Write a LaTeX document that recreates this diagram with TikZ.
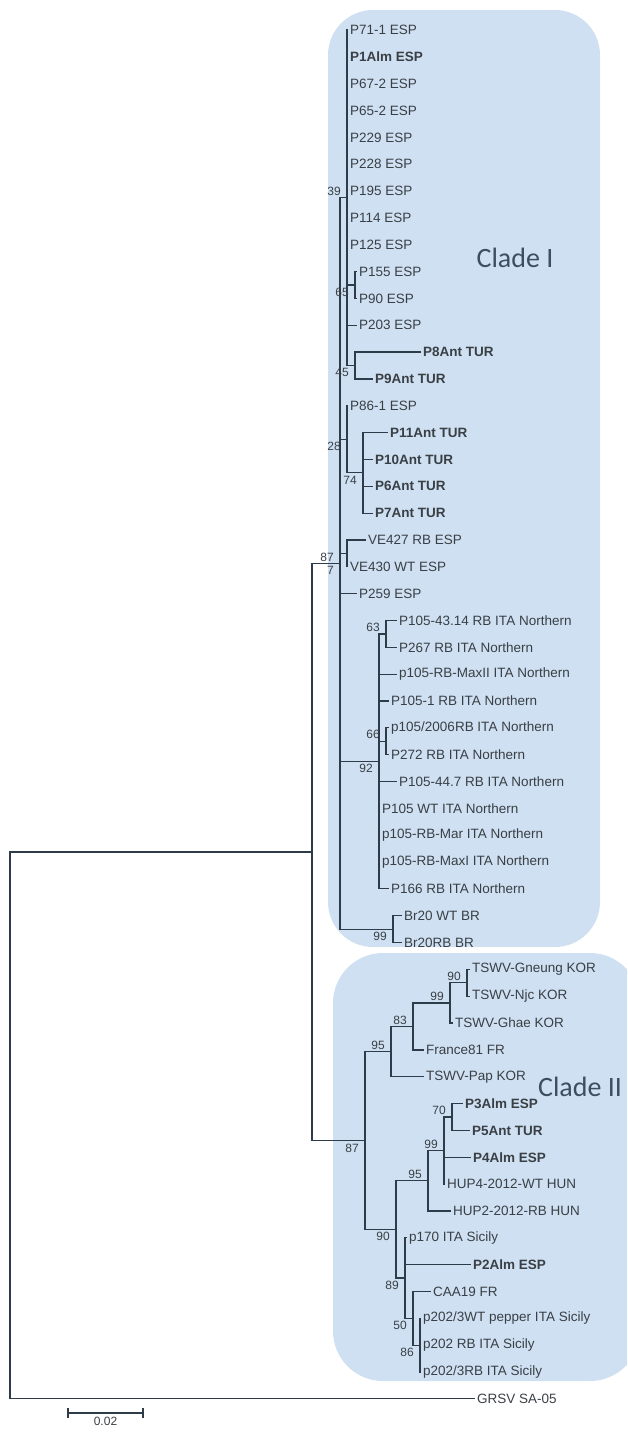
\documentclass[tikz,border=0pt]{standalone}
\usepackage{fontspec}
\usetikzlibrary{calc}
\setmainfont{Liberation Sans}
\newfontfamily\cladefont{Carlito}
\definecolor{boxc}{HTML}{CEE0F1}
\definecolor{linec}{HTML}{2E3B48}
\definecolor{textc}{HTML}{3A3F45}
\definecolor{cladec}{HTML}{3D4E60}
\newcommand\LY[1]{30+(#1-1)*26.84}
\begin{document}
\begin{tikzpicture}[x=1pt,y=-1pt,
  branch/.style={draw=linec, line width=1.2pt, line cap=rect},
  leaf/.style={anchor=west, inner sep=3pt, text=textc, font=\fontsize{13.5}{15}\selectfont},
  bleaf/.style={leaf, font=\fontsize{13.5}{15}\selectfont\bfseries},
  supa/.style={anchor=south east, inner sep=1pt, xshift=-5pt, yshift=1pt, text=textc, font=\fontsize{12}{13}\selectfont},
  supb/.style={anchor=north east, inner sep=1pt, xshift=-5pt, yshift=-2pt, text=textc, font=\fontsize{12}{13}\selectfont},
  cladebox/.style={fill=boxc, draw=none, rounded corners=45pt},
  cladelabel/.style={text=cladec, font=\cladefont\fontsize{28}{32}\selectfont, inner sep=0pt}]
\useasboundingbox (0,0) rectangle (627,1452);
\begin{scope}
\clip (0,0) rectangle (627,1452);
\fill[cladebox] (328,10) rectangle (600,947);
\fill[cladebox, rounded corners=50pt] (333,953) rectangle (640,1381);
\end{scope}
\node[cladelabel] (cladeI) at (515,258) {Clade I};
\node[cladelabel] (cladeII) at (580,1087) {Clade II};

% ---------- leaves ----------
\node[leaf]  (l1)  at (347,{\LY{1}})  {P71-1 ESP};
\node[bleaf] (l2)  at (347,{\LY{2}})  {P1Alm ESP};
\node[leaf]  (l3)  at (347,{\LY{3}})  {P67-2 ESP};
\node[leaf]  (l4)  at (347,{\LY{4}})  {P65-2 ESP};
\node[leaf]  (l5)  at (347,{\LY{5}})  {P229 ESP};
\node[leaf]  (l6)  at (347,{\LY{6}})  {P228 ESP};
\node[leaf]  (l7)  at (347,{\LY{7}})  {P195 ESP};
\node[leaf]  (l8)  at (347,{\LY{8}})  {P114 ESP};
\node[leaf]  (l9)  at (347,{\LY{9}})  {P125 ESP};
\node[leaf]  (l10) at (356,{\LY{10}}) {P155 ESP};
\node[leaf]  (l11) at (356,{\LY{11}}) {P90 ESP};
\node[leaf]  (l12) at (356,{\LY{12}}) {P203 ESP};
\node[bleaf] (l13) at (420,{\LY{13}}) {P8Ant TUR};
\node[bleaf] (l14) at (372,{\LY{14}}) {P9Ant TUR};
\node[leaf]  (l15) at (347,{\LY{15}}) {P86-1 ESP};
\node[bleaf] (l16) at (387,{\LY{16}}) {P11Ant TUR};
\node[bleaf] (l17) at (372,{\LY{17}}) {P10Ant TUR};
\node[bleaf] (l18) at (372,{\LY{18}}) {P6Ant TUR};
\node[bleaf] (l19) at (372,{\LY{19}}) {P7Ant TUR};
\node[leaf]  (l20) at (365,{\LY{20}}) {VE427 RB ESP};
\node[leaf]  (l21) at (347,{\LY{21}}) {VE430 WT ESP};
\node[leaf]  (l22) at (356,{\LY{22}}) {P259 ESP};
\node[leaf]  (l23) at (396,{\LY{23}}) {P105-43.14 RB ITA Northern};
\node[leaf]  (l24) at (396,{\LY{24}}) {P267 RB ITA Northern};
\node[leaf]  (l25) at (396,{\LY{25}}) {p105-RB-MaxII ITA Northern};
\node[leaf]  (l26) at (388,{\LY{26}}) {P105-1 RB ITA Northern};
\node[leaf]  (l27) at (388,{\LY{27}}) {p105/2006RB ITA Northern};
\node[leaf]  (l28) at (388,{\LY{28}}) {P272 RB ITA Northern};
\node[leaf]  (l29) at (396,{\LY{29}}) {P105-44.7 RB ITA Northern};
\node[leaf]  (l30) at (379,{\LY{30}}) {P105 WT ITA Northern};
\node[leaf]  (l31) at (379,{\LY{31}}) {p105-RB-Mar ITA Northern};
\node[leaf]  (l32) at (379,{\LY{32}}) {p105-RB-MaxI ITA Northern};
\node[leaf]  (l33) at (388,{\LY{33}}) {P166 RB ITA Northern};
\node[leaf]  (l34) at (401,{\LY{34}}) {Br20 WT BR};
\node[leaf]  (l35) at (401,{\LY{35}}) {Br20RB BR};
\node[leaf]  (l36) at (469,{\LY{36}}) {TSWV-Gneung KOR};
\node[leaf]  (l37) at (469,{\LY{37}}) {TSWV-Njc KOR};
\node[leaf]  (l38) at (452,{\LY{38}}) {TSWV-Ghae KOR};
\node[leaf]  (l39) at (423,{\LY{39}}) {France81 FR};
\node[leaf]  (l40) at (423,{\LY{40}}) {TSWV-Pap KOR};
\node[bleaf] (l41) at (462,{\LY{41}}) {P3Alm ESP};
\node[bleaf] (l42) at (469,{\LY{42}}) {P5Ant TUR};
\node[bleaf] (l43) at (470,{\LY{43}}) {P4Alm ESP};
\node[leaf]  (l44) at (444,{\LY{44}}) {HUP4-2012-WT HUN};
\node[leaf]  (l45) at (450,{\LY{45}}) {HUP2-2012-RB HUN};
\node[leaf]  (l46) at (406,{\LY{46}}) {p170 ITA Sicily};
\node[bleaf] (l47) at (470,{\LY{47}}) {P2Alm ESP};
\node[leaf]  (l48) at (430,{\LY{48}}) {CAA19 FR};
\node[leaf]  (l49) at (420,{\LY{49}}) {p202/3WT pepper ITA Sicily};
\node[leaf]  (l50) at (420,{\LY{50}}) {p202 RB ITA Sicily};
\node[leaf]  (l51) at (420,{\LY{51}}) {p202/3RB ITA Sicily};
\node[leaf]  (l52) at (474,{\LY{52}}) {GRSV SA-05};

% ---------- internal nodes ----------
\coordinate (n65) at (355,285.0);
\coordinate (n45) at (355,365.5);
\coordinate (n39) at (347,197.75);
\coordinate (n74) at (363,472.85);
\coordinate (n26) at (347,439.3);
\coordinate (nVE) at (347,553.4);
\coordinate (n63) at (386,633.9);
\coordinate (n66) at (386,741.25);
\coordinate (n92) at (379,761.4);
\coordinate (nBr) at (393,929.15);
\coordinate (nC1) at (340,563.45);
\coordinate (n90a) at (467,982.8);
\coordinate (n99a) at (450,1002.95);
\coordinate (n83) at (413,1026.4);
\coordinate (n95a) at (391,1051.6);
\coordinate (n70) at (452,1117.0);
\coordinate (n99b) at (444,1150.55);
\coordinate (n95b) at (428,1180.8);
\coordinate (n86) at (420,1345.15);
\coordinate (n50) at (413,1318.3);
\coordinate (n89) at (405,1278.05);
\coordinate (n90b) at (396,1229.4);
\coordinate (nC2) at (365,1140.5);
\coordinate (nAB) at (312,851.98);
\coordinate (root) at (10,851.98);

% ---------- branches: Clade I ----------
\draw[branch] (n39 |- l1.west) -- (n39 |- n45);
\draw[branch] (n39 |- n65) -- (n65);
\draw[branch] (n65 |- l10.west) -- (n65 |- l11.west);
\draw[branch] (n65 |- l10.west) -- (l10.west);
\draw[branch] (n65 |- l11.west) -- (l11.west);
\draw[branch] (n39 |- l12.west) -- (l12.west);
\draw[branch] (n39 |- n45) -- (n45);
\draw[branch] (n45 |- l13.west) -- (n45 |- l14.west);
\draw[branch] (n45 |- l13.west) -- (l13.west);
\draw[branch] (n45 |- l14.west) -- (l14.west);

\draw[branch] (n26 |- l15.west) -- (n26 |- n74);
\draw[branch] (n26 |- n74) -- (n74);
\draw[branch] (n74 |- l16.west) -- (n74 |- l19.west);
\draw[branch] (n74 |- l16.west) -- (l16.west);
\draw[branch] (n74 |- l17.west) -- (l17.west);
\draw[branch] (n74 |- l18.west) -- (l18.west);
\draw[branch] (n74 |- l19.west) -- (l19.west);

\draw[branch] (nVE |- l20.west) -- (nVE |- l21.west);
\draw[branch] (nVE |- l20.west) -- (l20.west);

\draw[branch] (n92 |- n63) -- (n92 |- l33.west);
\draw[branch] (n92 |- n63) -- (n63);
\draw[branch] (n63 |- l23.west) -- (n63 |- l24.west);
\draw[branch] (n63 |- l23.west) -- (l23.west);
\draw[branch] (n63 |- l24.west) -- (l24.west);
\draw[branch] (n92 |- l25.west) -- (l25.west);
\draw[branch] (n92 |- l26.west) -- (l26.west);
\draw[branch] (n92 |- n66) -- (n66);
\draw[branch] (n66 |- l27.west) -- (n66 |- l28.west);
\draw[branch] (n66 |- l27.west) -- (l27.west);
\draw[branch] (n66 |- l28.west) -- (l28.west);
\draw[branch] (n92 |- l29.west) -- (l29.west);
\draw[branch] (n92 |- l33.west) -- (l33.west);

\draw[branch] (nBr |- l34.west) -- (nBr |- l35.west);
\draw[branch] (nBr |- l34.west) -- (l34.west);
\draw[branch] (nBr |- l35.west) -- (l35.west);

\draw[branch] (nC1 |- n39) -- (nC1 |- nBr);
\draw[branch] (nC1 |- n39) -- (n39);
\draw[branch] (nC1 |- n26) -- (n26);
\draw[branch] (nC1 |- nVE) -- (nVE);
\draw[branch] (nC1 |- l22.west) -- (l22.west);
\draw[branch] (nC1 |- n92) -- (n92);
\draw[branch] (nC1 |- nBr) -- (nBr);

% ---------- branches: Clade II ----------
\draw[branch] (n90a |- l36.west) -- (n90a |- l37.west);
\draw[branch] (n90a |- l36.west) -- (l36.west);
\draw[branch] (n90a |- l37.west) -- (l37.west);
\draw[branch] (n99a |- n90a) -- (n99a |- l38.west);
\draw[branch] (n99a |- n90a) -- (n90a);
\draw[branch] (n99a |- l38.west) -- (l38.west);
\draw[branch] (n83 |- n99a) -- (n83 |- l39.west);
\draw[branch] (n83 |- n99a) -- (n99a);
\draw[branch] (n83 |- l39.west) -- (l39.west);
\draw[branch] (n95a |- n83) -- (n95a |- l40.west);
\draw[branch] (n95a |- n83) -- (n83);
\draw[branch] (n95a |- l40.west) -- (l40.west);

\draw[branch] (n70 |- l41.west) -- (n70 |- l42.west);
\draw[branch] (n70 |- l41.west) -- (l41.west);
\draw[branch] (n70 |- l42.west) -- (l42.west);
\draw[branch] (n99b |- n70) -- (n99b |- l44.west);
\draw[branch] (n99b |- n70) -- (n70);
\draw[branch] (n99b |- l43.west) -- (l43.west);
\draw[branch] (n95b |- n99b) -- (n95b |- l45.west);
\draw[branch] (n95b |- n99b) -- (n99b);
\draw[branch] (n95b |- l45.west) -- (l45.west);

\draw[branch] (n86 |- l49.west) -- (n86 |- l51.west);
\draw[branch] (n50 |- l48.west) -- (n50 |- n86);
\draw[branch] (n50 |- l48.west) -- (l48.west);
\draw[branch] (n50 |- n86) -- (n86);
\draw[branch] (n89 |- l46.west) -- (n89 |- n50);
\draw[branch] (n89 |- l46.west) -- (l46.west);
\draw[branch] (n89 |- l47.west) -- (l47.west);
\draw[branch] (n89 |- n50) -- (n50);
\draw[branch] (n90b |- n95b) -- (n90b |- n89);
\draw[branch] (n90b |- n95b) -- (n95b);
\draw[branch] (n90b |- n89) -- (n89);

\draw[branch] (nC2 |- n95a) -- (nC2 |- n90b);
\draw[branch] (nC2 |- n95a) -- (n95a);
\draw[branch] (nC2 |- n90b) -- (n90b);

% ---------- root ----------
\draw[branch] (nAB |- nC1) -- (nAB |- nC2);
\draw[branch] (nAB |- nC1) -- (nC1);
\draw[branch] (nAB |- nC2) -- (nC2);
\draw[branch] (root) -- (root |- l52.west);
\draw[branch] (root) -- (nAB);
\draw[branch] (root |- l52.west) -- (l52.west);

% ---------- support values ----------
\node[supa] (s39) at (n39) {39};
\node[supb] (s65) at (n65) {65};
\node[supb] (s45) at (n45) {45};
\node[supb] (s28) at (n26) {28};
\node[supb] (s74) at (n74) {74};
\node[supa] (s87a) at (nC1) {87};
\node[supb] (s7) at (nC1) {7};
\node[supa] (s63) at (n63) {63};
\node[supa] (s66) at (n66) {66};
\node[supb] (s92) at (n92) {92};
\node[supb] (s99br) at (nBr) {99};
\node[supa] (s90a) at (n90a) {90};
\node[supa] (s99a) at (n99a) {99};
\node[supa] (s83) at (n83) {83};
\node[supa] (s95a) at (n95a) {95};
\node[supb] (s87b) at (nC2) {87};
\node[supa] (s70) at (n70) {70};
\node[supa] (s99b) at (n99b) {99};
\node[supa] (s95b) at (n95b) {95};
\node[supb] (s90b) at (n90b) {90};
\node[supb] (s89) at (n89) {89};
\node[supb] (s50) at (n50) {50};
\node[supb] (s86) at (n86) {86};

% ---------- scale bar ----------
\coordinate (sbL) at (68,1413);
\coordinate (sbR) at (143,1413);
\draw[draw=linec, line width=1.2pt] (sbL) -- (sbR);
\draw[draw=linec, line width=1.2pt] ([yshift=5pt]sbL) -- ([yshift=-5pt]sbL);
\draw[draw=linec, line width=1.2pt] ([yshift=5pt]sbR) -- ([yshift=-5pt]sbR);
\node[text=textc, font=\fontsize{12}{13}\selectfont, anchor=north, inner sep=1pt] (sbt) at ($(sbL)!0.5!(sbR)+(0,3)$) {0.02};
\end{tikzpicture}
\end{document}
